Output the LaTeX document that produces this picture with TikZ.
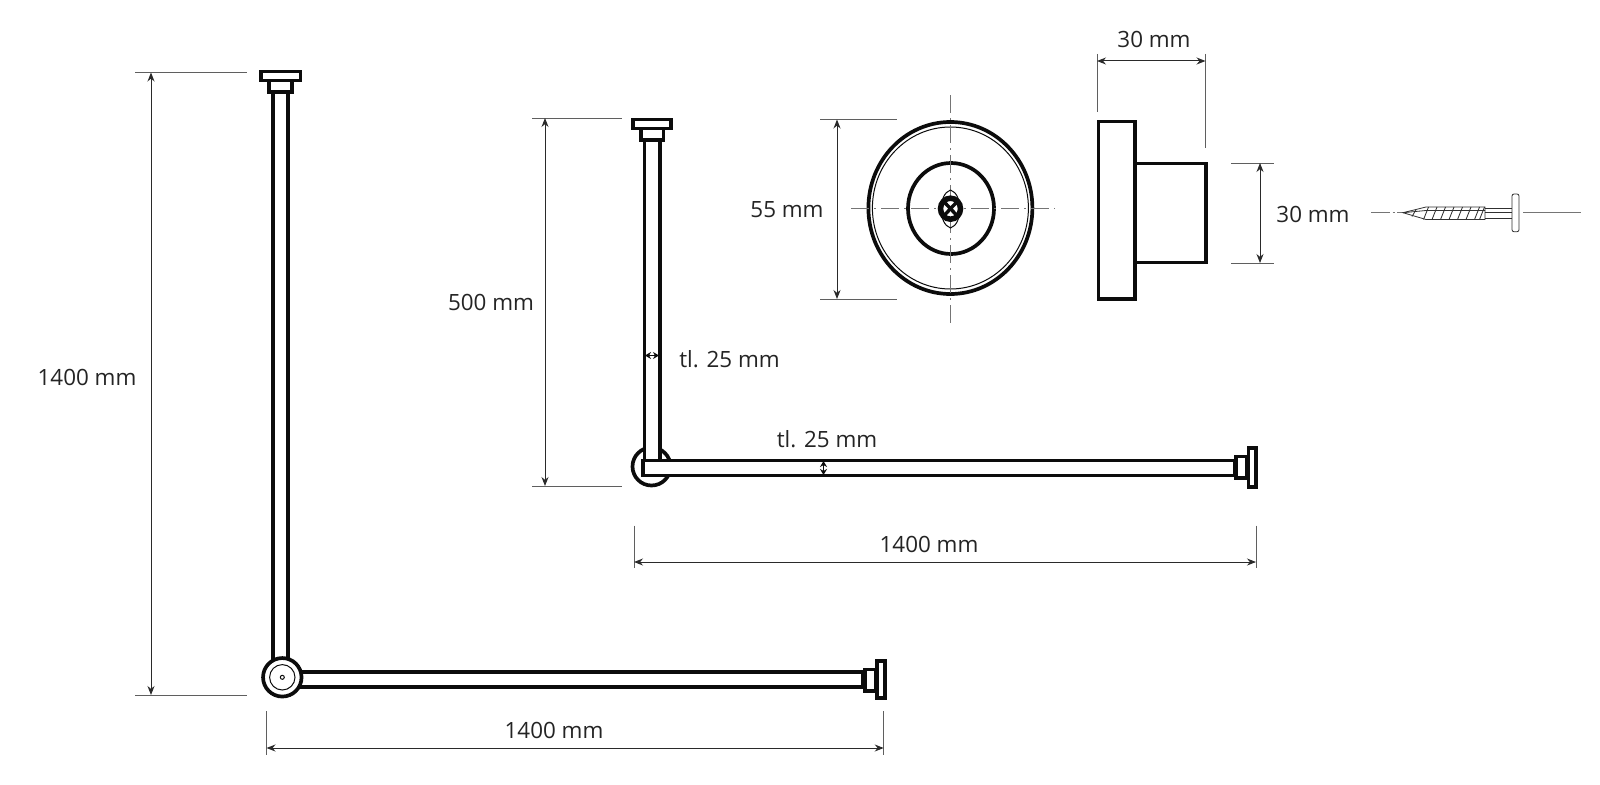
\documentclass[tikz,border=0pt]{standalone}
\usepackage{fontspec}
\setmainfont{Open Sans}
\usetikzlibrary{arrows.meta,calc}
\definecolor{ink}{HTML}{0C0C0C}
\definecolor{dimc}{HTML}{2A2A2A}
\tikzset{
 x=1pt,y=-1pt,
 part/.style={draw=ink,line width=3.7pt,fill=white},
 thin part/.style={draw=ink,line width=1pt},
 hair/.style={draw=ink!85,line width=.8pt},
 extline/.style={draw=dimc!75,line width=1pt},
 dimline/.style={draw=dimc,line width=1pt,{Stealth[length=9pt,width=7pt]}-{Stealth[length=9pt,width=7pt]}},
 smalldim/.style={draw=ink,line width=1.2pt,{Stealth[length=6pt,width=7pt]}-{Stealth[length=6pt,width=7pt]}},
 axis/.style={draw=dimc!65,line width=.9pt,dash pattern=on 18pt off 5pt on 2pt off 5pt},
 axis solid/.style={draw=dimc!65,line width=1pt},
 lab/.style={font=\fontsize{22.4pt}{25pt}\selectfont,text=ink!90,inner sep=0pt},
}
\begin{document}
\begin{tikzpicture}
\useasboundingbox (0,0) rectangle (1600,784);
% ---- left unit
\draw[part] (273,92) rectangle (288,665);
\draw[part] (295,672) rectangle (863,687);
\draw[part] (261,71.5) rectangle (300.5,80.5);
\draw[part] (269,80.5) rectangle (292,92);
\draw[part] (865,669.5) rectangle (875.5,691);
\draw[part] (877,661) rectangle (885,698);
\node[part,circle,minimum size=38.5pt,inner sep=0pt] (hubA) at (282.3,677.3) {};
\draw[thin part] (hubA.center) circle[radius=12.7];
\draw[thin part] (hubA.center) circle[radius=2];
% ---- right unit
\coordinate (hubB) at (651.5,466.5);
\draw[draw=ink,line width=3.7pt] (hubB) circle[radius=19];
\draw[part] (644.5,140) rectangle (660,470);
\draw[part] (643,460.5) rectangle (1235,475.5);
\draw[part] (633,119.5) rectangle (671,128.5);
\draw[part] (641,128.5) rectangle (663.5,140);
\draw[part] (1236,456.5) rectangle (1247,478);
\draw[part] (1248.5,448) rectangle (1256,487);
% ---- wall plate, front
\coordinate (plate) at (950.4,208);
\draw[part] (plate) ellipse[x radius=82,y radius=86];
\draw[thin part] (plate) ellipse[x radius=78,y radius=81];
\draw[part] (951,208.5) ellipse[x radius=43,y radius=45.5];
\draw[axis] (950.5,95) -- (950.5,325);
\draw[axis] (851,208) -- (1055,208);
\draw[thin part] (950.5,190) .. controls (963,194) and (963,224) .. (950.5,228) .. controls (938,224) and (938,194) .. (950.5,190);
\coordinate (bolt) at (950.5,208.7);
\draw[draw=ink,line width=5.5pt,fill=white] (bolt) ellipse[x radius=10,y radius=10.5];
\draw[ink,line width=3.4pt] ($(bolt)+(-7,-7.5)$) -- ($(bolt)+(7,7.5)$);
\draw[ink,line width=3.4pt] ($(bolt)+(7,-7.5)$) -- ($(bolt)+(-7,7.5)$);
% ---- wall plate, side
\draw[part] (1135,163.5) rectangle (1206,262.5);
\draw[part] (1098.5,121.5) rectangle (1135,299);
% ---- screw
\draw[axis solid] (1371,212.7) -- (1390,212.7);
\draw[axis solid] (1392.5,212.7) -- (1394.5,212.7);
\draw[axis solid] (1397,212.7) -- (1403,212.7);
\draw[axis solid] (1523,212.7) -- (1581,212.7);
\draw[hair] (1403,212.7) -- (1426,207) -- (1485,207) -- (1485,219.5) -- (1426,219.5) -- cycle;
\foreach \xx in {1426,1434.5,1443,1451.5,1460,1468.5,1477,1482}{\draw[hair] (\xx+2.5,207) -- (\xx-2.5,219.5);}
\draw[hair] (1416,209.8) -- (1412,216.5);
\draw[hair] (1485,208) -- (1512,208) (1485,218) -- (1512,218);
\draw[hair] (1403,212.7) -- (1426,210.5) -- (1485,210.5);
\draw[hair] (1485,212.7) -- (1512,212.7);
\draw[hair,fill=white,rounded corners=2pt] (1512,194) rectangle (1519,231.7);
% ---- dimensions
\coordinate (a1) at (135,72.5); \coordinate (a2) at (247,72.5);
\coordinate (a3) at (135,695); \coordinate (a4) at (247,695);
\draw[extline] (a1) -- (a2); \draw[extline] (a3) -- (a4);
\draw[dimline] (151,72.5) -- (151,695);
\node[lab] (t1) at (87,377) {1400 mm};

\draw[extline] (266.5,711) -- (266.5,755); \draw[extline] (883.7,711) -- (883.7,755);
\draw[dimline] (266.5,748) -- (883.7,748);
\node[lab] (t2) at (554,730) {1400 mm};

\draw[extline] (532,118) -- (622,118); \draw[extline] (532,486) -- (622,486);
\draw[dimline] (545,118) -- (545,486);
\node[lab] (t3) at (491,302) {500 mm};

\draw[smalldim] (645,355.5) -- (659,355.5);
\node[lab] (t4) at (729.5,359) {tl. 25 mm};
\draw[smalldim] (823.5,461) -- (823.5,475);
\node[lab] (t5) at (827,439) {tl. 25 mm};

\draw[extline] (634,525.5) -- (634,568); \draw[extline] (1256,525.5) -- (1256,568);
\draw[dimline] (634,562) -- (1256,562);
\node[lab] (t6) at (929,544) {1400 mm};

\draw[extline] (820,119.5) -- (897,119.5); \draw[extline] (820,299) -- (897,299);
\draw[dimline] (837,119.5) -- (837,299);
\node[lab] (t7) at (787,210) {55 mm};

\draw[extline] (1097,54) -- (1097,112); \draw[extline] (1205.5,54) -- (1205.5,148);
\draw[dimline] (1097,61) -- (1205.5,61);
\node[lab] (t8) at (1154,39) {30 mm};

\draw[extline] (1231,163) -- (1274,163); \draw[extline] (1231,263) -- (1274,263);
\draw[dimline] (1260,163) -- (1260,263);
\node[lab] (t9) at (1313,214) {30 mm};
\end{tikzpicture}
\end{document}
